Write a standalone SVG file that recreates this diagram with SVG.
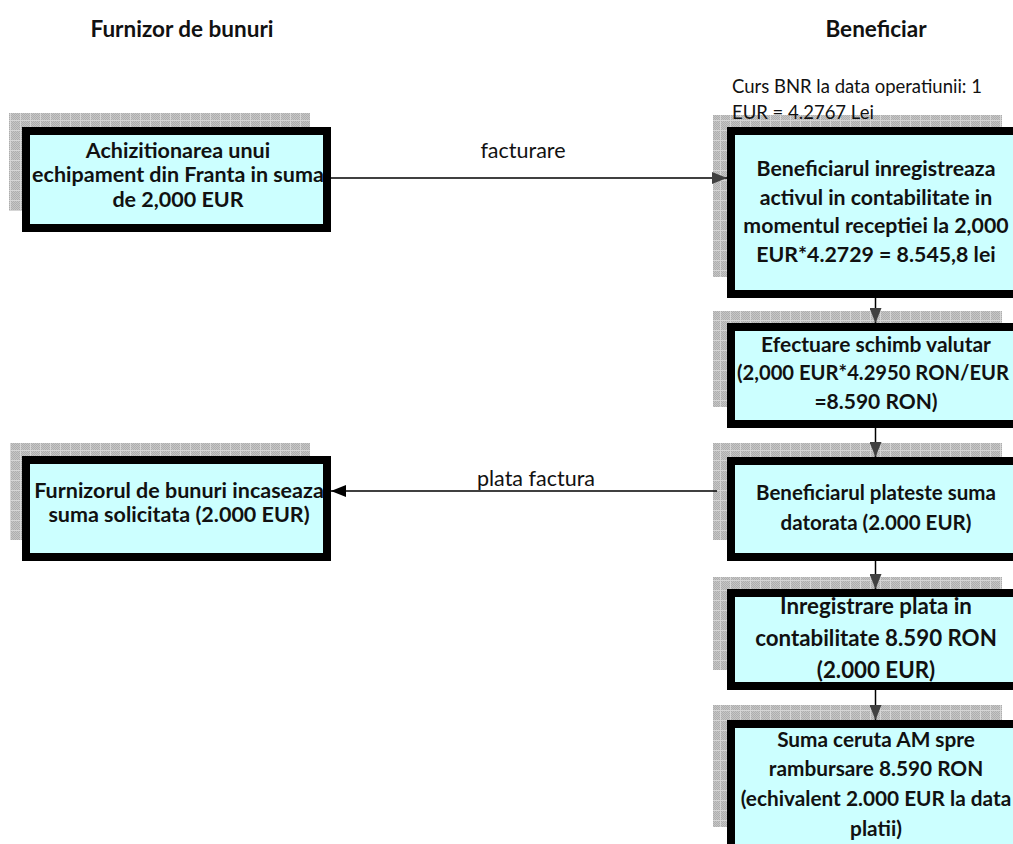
<svg xmlns="http://www.w3.org/2000/svg" width="1013" height="844" viewBox="0 0 1013 844">
<defs>
<pattern id="dots" width="2" height="2" patternUnits="userSpaceOnUse">
<rect width="2" height="2" fill="#c6c6c6"/>
<rect width="1" height="1" fill="#aeaeae"/>
<rect x="1" y="1" width="1" height="1" fill="#aeaeae"/>
</pattern>
<pattern id="grid" width="10" height="10" patternUnits="userSpaceOnUse">
<rect width="10" height="10" fill="url(#dots)"/>
<path d="M0 0.5H10M0.5 0V10" stroke="#d6d6d6" stroke-width="1"/>
</pattern>
<marker id="ahGray" markerWidth="16" markerHeight="12" refX="15" refY="6" orient="auto" markerUnits="userSpaceOnUse">
<path d="M0 0L15 6L0 12Z" fill="#404040"/>
</marker>
<marker id="ahBlack" markerWidth="16" markerHeight="12" refX="15" refY="6" orient="auto" markerUnits="userSpaceOnUse">
<path d="M0 0L15 6L0 12Z" fill="#000"/>
</marker>
</defs>
<style>
.sh{fill:url(#grid);}
.box{fill:#ccffff;stroke:#000;stroke-width:8;}
.t{font-family:Lato,"Liberation Sans",sans-serif;font-weight:bold;fill:#111;text-anchor:middle;}
.l{font-family:Lato,"Liberation Sans",sans-serif;fill:#111;}
.c{stroke:#000;stroke-width:1.5;fill:none;}
</style>
<rect width="1013" height="844" fill="#fff"/>
<text class="t" x="182" y="37" font-size="22.5">Furnizor de bunuri</text>
<text class="t" x="876" y="37" font-size="22.5">Beneficiar</text>

<g id="n1">
<rect class="sh" x="9" y="113" width="301" height="98"/>
<rect class="box" x="26" y="131" width="301" height="97"/>
<text class="t" font-size="21.5" x="178" y="157.5">Achizitionarea unui</text>
<text class="t" font-size="21.5" x="178" y="182">echipament din Franta in suma</text>
<text class="t" font-size="21.5" x="178" y="206.5">de 2,000 EUR</text>
</g>
<g id="n2">
<rect class="sh" x="10" y="443" width="300" height="97"/>
<rect class="box" x="26" y="460" width="301" height="97"/>
<text class="t" font-size="21.5" x="179" y="498">Furnizorul de bunuri incaseaza</text>
<text class="t" font-size="21.5" x="179" y="522">suma solicitata (2.000 EUR)</text>
</g>

<g id="r1">
<rect class="sh" x="713" y="115" width="289" height="162"/>
<text class="l" font-size="18.5" x="732" y="93" fill="#333">Curs BNR la data operatiunii: 1</text>
<text class="l" font-size="18.5" x="732" y="119" fill="#333">EUR = 4.2767 Lei</text>
<rect class="box" x="731" y="131" width="290" height="163"/>
<text class="t" font-size="21.3" x="876" y="176">Beneficiarul inregistreaza</text>
<text class="t" font-size="21.3" x="876" y="205">activul in contabilitate in</text>
<text class="t" font-size="21.3" x="876" y="233">momentul receptiei la 2,000</text>
<text class="t" font-size="21.3" x="876" y="262">EUR*4.2729 = 8.545,8 lei</text>
</g>
<g id="r2">
<rect class="sh" x="713" y="311" width="289" height="96"/>
<rect class="box" x="731" y="327" width="290" height="97"/>
<text class="t" font-size="21" x="876" y="352">Efectuare schimb valutar</text>
<text class="t" font-size="20.2" x="873" y="380">(2,000 EUR*4.2950 RON/EUR</text>
<text class="t" font-size="21" x="876" y="409">=8.590 RON)</text>
</g>
<g id="r3">
<rect class="sh" x="713" y="443" width="289" height="97"/>
<rect class="box" x="731" y="461" width="290" height="96"/>
<text class="t" font-size="20.5" x="876" y="500">Beneficiarul plateste suma</text>
<text class="t" font-size="20.5" x="876" y="530">datorata (2.000 EUR)</text>
</g>
<g id="r4">
<rect class="sh" x="713" y="577" width="289" height="93"/>
<rect class="box" x="731" y="593" width="290" height="93"/>
<text class="t" font-size="22.3" x="876" y="614">Inregistrare plata in</text>
<text class="t" font-size="22.3" x="876" y="646">contabilitate 8.590 RON</text>
<text class="t" font-size="22.3" x="876" y="678">(2.000 EUR)</text>
</g>
<g id="r5">
<rect class="sh" x="713" y="705" width="289" height="122"/>
<rect class="box" x="731" y="724" width="290" height="150"/>
<text class="t" font-size="20.8" x="876" y="747">Suma ceruta AM spre</text>
<text class="t" font-size="20.8" x="876" y="776">rambursare 8.590 RON</text>
<text class="t" font-size="20.8" x="876" y="806">(echivalent 2.000 EUR la data</text>
<text class="t" font-size="20.8" x="876" y="836">platii)</text>
</g>

<g id="connectors">
<line class="c" x1="331" y1="178" x2="727" y2="178" marker-end="url(#ahGray)"/>
<text class="l" font-size="21.5" x="523" y="158" text-anchor="middle">facturare</text>
<line class="c" x1="717" y1="491" x2="331" y2="491" marker-end="url(#ahBlack)"/>
<text class="l" font-size="21.5" x="536" y="486" text-anchor="middle">plata factura</text>
<line class="c" x1="875.5" y1="298" x2="875.5" y2="323" marker-end="url(#ahGray)"/>
<line class="c" x1="875.5" y1="428" x2="875.5" y2="457" marker-end="url(#ahGray)"/>
<line class="c" x1="875.5" y1="561" x2="875.5" y2="589" marker-end="url(#ahGray)"/>
<line class="c" x1="875.5" y1="690" x2="875.5" y2="720" marker-end="url(#ahGray)"/>
</g>
</svg>
